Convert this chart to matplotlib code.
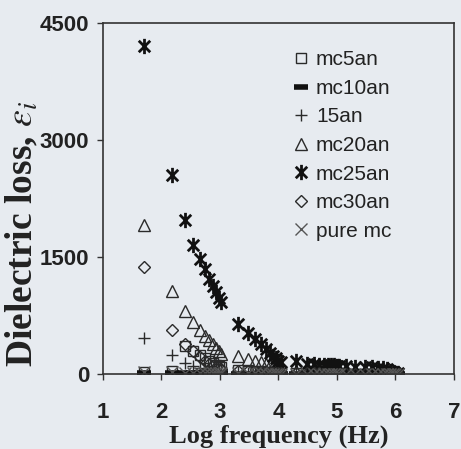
import matplotlib
matplotlib.use("Agg")
import matplotlib.pyplot as plt
from matplotlib.path import Path

plt.rcParams['mathtext.fontset'] = 'stix'

log_freq = [1.70,
            2.18, 2.40, 2.54, 2.65, 2.74, 2.81, 2.88, 2.93, 2.98, 3.02,
            3.30, 3.48, 3.60, 3.70, 3.78, 3.85, 3.90, 3.95, 4.00, 4.04,
            4.30, 4.48, 4.60, 4.70, 4.78, 4.85, 4.90, 4.95, 5.00, 5.04,
            5.15, 5.30, 5.48, 5.60, 5.70, 5.78, 5.85, 5.90, 5.95, 6.00, 6.04]

mc5an = [20,
         40, 360, 290, 240, 200, 170, 140, 120, 100, 85,
         50, 45, 40, 35, 30, 28, 25, 22, 20, 18,
         12, 10, 9, 8, 7, 6, 6, 5, 5, 4,
         4, 4, 3, 3, 3, 2, 2, 2, 2, 1, 1]
mc10an = [15,
          12, 10, 10, 9, 9, 8, 8, 8, 7, 7,
          6, 6, 5, 5, 5, 5, 4, 4, 4, 4,
          3, 3, 3, 3, 3, 2, 2, 2, 2, 2,
          2, 2, 2, 1, 1, 1, 1, 1, 1, 1, 1]
an15 = [460,
        240, 140, 100, 80, 65, 55, 45, 40, 35, 30,
        20, 18, 16, 14, 12, 10, 9, 8, 7, 6,
        5, 5, 4, 4, 4, 3, 3, 3, 3, 2,
        2, 2, 2, 2, 1, 1, 1, 1, 1, 1, 1]
mc20an = [1907,
          1066, 806, 670, 560, 490, 430, 380, 330, 290, 260,
          230, 190, 170, 150, 130, 110, 100, 90, 80, 70,
          40, 35, 30, 28, 25, 22, 20, 18, 16, 15,
          14, 12, 10, 9, 8, 7, 6, 5, 4, 3, 2]
mc25an = [4200,
          2550, 1980, 1660, 1470, 1340, 1220, 1130, 1050, 970, 920,
          640, 530, 450, 380, 320, 270, 230, 200, 170, 150,
          170, 130, 125, 120, 118, 115, 112, 110, 108, 105,
          100, 95, 90, 85, 80, 75, 60, 40, 25, 15, 10]
mc30an = [1370,
          560, 390, 290, 220, 170, 130, 105, 90, 75, 65,
          40, 35, 30, 26, 22, 20, 18, 16, 14, 12,
          10, 9, 8, 7, 6, 6, 5, 5, 4, 4,
          4, 3, 3, 3, 2, 2, 2, 2, 1, 1, 1]
pure_mc = [25,
           20, 18, 16, 15, 14, 13, 12, 11, 10, 10,
           8, 8, 7, 7, 6, 6, 6, 5, 5, 5,
           4, 4, 4, 4, 3, 3, 3, 3, 3, 3,
           2, 2, 2, 2, 2, 2, 2, 1, 1, 1, 1]

series_labels = ['mc5an', 'mc10an', '15an', 'mc20an', 'mc25an', 'mc30an', 'pure mc']
x_ticks = [1, 2, 3, 4, 5, 6, 7]
y_ticks = [0, 1500, 3000, 4500]

# asterisk-like marker: X with vertical bar
star_path = Path([(0, -1), (0, 1), (-0.75, -0.75), (0.75, 0.75), (-0.75, 0.75), (0.75, -0.75)],
                 [Path.MOVETO, Path.LINETO, Path.MOVETO, Path.LINETO, Path.MOVETO, Path.LINETO])

bg = '#e7ebf0'
ink = '#2a2a2a'

fig = plt.figure(figsize=(4.61, 4.49), dpi=100, facecolor=bg)
ax = fig.add_axes([0.2234, 0.167, 0.7614, 0.7818], facecolor=bg)

styles = [
    dict(marker='s', ms=7, mfc='none', mec=ink, mew=1.0),
    dict(marker='_', ms=10, mec='#111111', mew=4.0),
    dict(marker='+', ms=9, mec=ink, mew=1.0),
    dict(marker='^', ms=8, mfc='none', mec=ink, mew=1.0),
    dict(marker=star_path, ms=11, mec='#111111', mew=2.0),
    dict(marker='D', ms=6.5, mfc='none', mec=ink, mew=1.0),
    dict(marker='x', ms=9, mec='#555555', mew=1.0),
]
data = [mc5an, mc10an, an15, mc20an, mc25an, mc30an, pure_mc]
for vals, lab, st in zip(data, series_labels, styles):
    ax.plot(log_freq, vals, linestyle='none', label=lab, **st)

ax.set_xlim(1, 7)
ax.set_ylim(0, 4500)
ax.set_xticks(x_ticks)
ax.set_yticks(y_ticks)
for s in ax.spines.values():
    s.set_color('#333333')
    s.set_linewidth(1.2)
ax.tick_params(axis='both', direction='out', length=4, width=1, color='#333333')
ax.tick_params(axis='x', pad=16)
ax.tick_params(axis='y', pad=6)
for lbl in ax.get_xticklabels() + ax.get_yticklabels():
    lbl.set_fontfamily('Liberation Sans')
    lbl.set_fontweight('bold')
    lbl.set_fontsize(16)
    lbl.set_color('#222222')

ax.set_xlabel('Log frequency (Hz)', fontfamily='Liberation Serif', fontweight='bold',
              fontsize=19, color='#222222', labelpad=1)
ax.set_ylabel(r'Dielectric loss, $\varepsilon_i$', fontfamily='Liberation Serif',
              fontweight='bold', fontsize=27, color='#222222')
ax.yaxis.set_label_coords(-0.178, 0.40)

leg = ax.legend(loc='upper left', bbox_to_anchor=(0.50, 0.964), frameon=False,
                prop={'family': 'Liberation Sans', 'size': 15},
                handlelength=0.8, handletextpad=0.3, labelspacing=0.46,
                borderpad=0.2)
for t in leg.get_texts():
    t.set_color('#222222')

fig.savefig('out.png', dpi=100, facecolor=bg)
